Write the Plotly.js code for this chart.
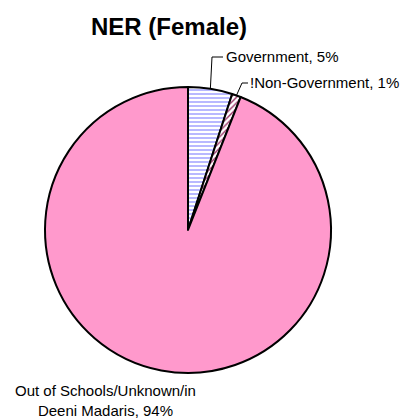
<!DOCTYPE html>
<html>
<head>
<meta charset="utf-8">
<script src="https://cdn.plot.ly/plotly-3.0.1.min.js"></script>
<style>html,body{margin:0;padding:0;background:#fff}#chart{width:406px;height:418px}</style>
</head>
<body>
<div id="chart"></div>
<script>
const categories = ["Government", "!Non-Government", "Out of Schools/Unknown/in<br>Deeni Madaris"];
const values = [5, 1, 94];
const valueLabels = ["5%", "1%", "94%"];

const W = 406, H = 418;
const cx = 188, cy = 230, R = 143;
const px = x => x / W;
const py = y => 1 - y / H;

const total = values.reduce((a, b) => a + b, 0);
function midPoint(i) {
  let before = 0;
  for (let k = 0; k < i; k++) before += values[k];
  const frac = (before + values[i] / 2) / total;
  const ang = frac * 2 * Math.PI;
  return [cx + R * Math.sin(ang), cy - R * Math.cos(ang)];
}

const data = [{
  type: "pie",
  labels: categories,
  values: values,
  sort: false,
  direction: "clockwise",
  rotation: 0,
  textinfo: "none",
  hoverinfo: "label+percent",
  showlegend: false,
  marker: {
    colors: ["#ffffff", "#ffffff", "#FF99CC"],
    line: {color: "#000000", width: 2},
    pattern: {
      shape: ["-", "/", ""],
      fgcolor: ["#9999FF", "#993366", "#FF99CC"],
      bgcolor: ["#ffffff", "#ffffff", "#FF99CC"],
      size: 4,
      solidity: 0.35
    }
  },
  domain: {x: [px(cx - R), px(cx + R)], y: [py(cy + R), py(cy - R)]}
}];

const p0 = midPoint(0), p1 = midPoint(1);
const shapes = [
  {type: "path", xref: "paper", yref: "paper",
   path: `M ${px(p0[0])},${py(p0[1])} L ${px(212)},${py(57)} L ${px(223)},${py(57)}`,
   line: {color: "#000", width: 1}},
  {type: "path", xref: "paper", yref: "paper",
   path: `M ${px(p1[0])},${py(p1[1])} L ${px(242)},${py(83)} L ${px(248)},${py(83)}`,
   line: {color: "#000", width: 1}}
];

const font = {family: "Liberation Sans, Arial, sans-serif", size: 15, color: "#000"};
const annotations = [
  {xref: "paper", yref: "paper", x: px(224), y: py(57), xanchor: "left", yanchor: "middle",
   text: categories[0] + ", " + valueLabels[0], showarrow: false, font: font},
  {xref: "paper", yref: "paper", x: px(248), y: py(83), xanchor: "left", yanchor: "middle",
   text: categories[1] + ", " + valueLabels[1], showarrow: false, font: font},
  {xref: "paper", yref: "paper", x: px(105), y: py(400), xanchor: "center", yanchor: "middle",
   text: categories[2] + ", " + valueLabels[2], showarrow: false, font: font, align: "center"}
];

const layout = {
  width: W, height: H,
  margin: {l: 0, r: 0, t: 0, b: 0},
  paper_bgcolor: "#ffffff",
  title: {text: "<b>NER (Female)</b>", x: px(169), xanchor: "center", y: py(27), yanchor: "middle",
          font: {family: "Liberation Sans, Arial, sans-serif", size: 24, color: "#000"}},
  shapes: shapes,
  annotations: annotations
};

Plotly.newPlot("chart", data, layout, {displayModeBar: false, staticPlot: true});
</script>
</body>
</html>
